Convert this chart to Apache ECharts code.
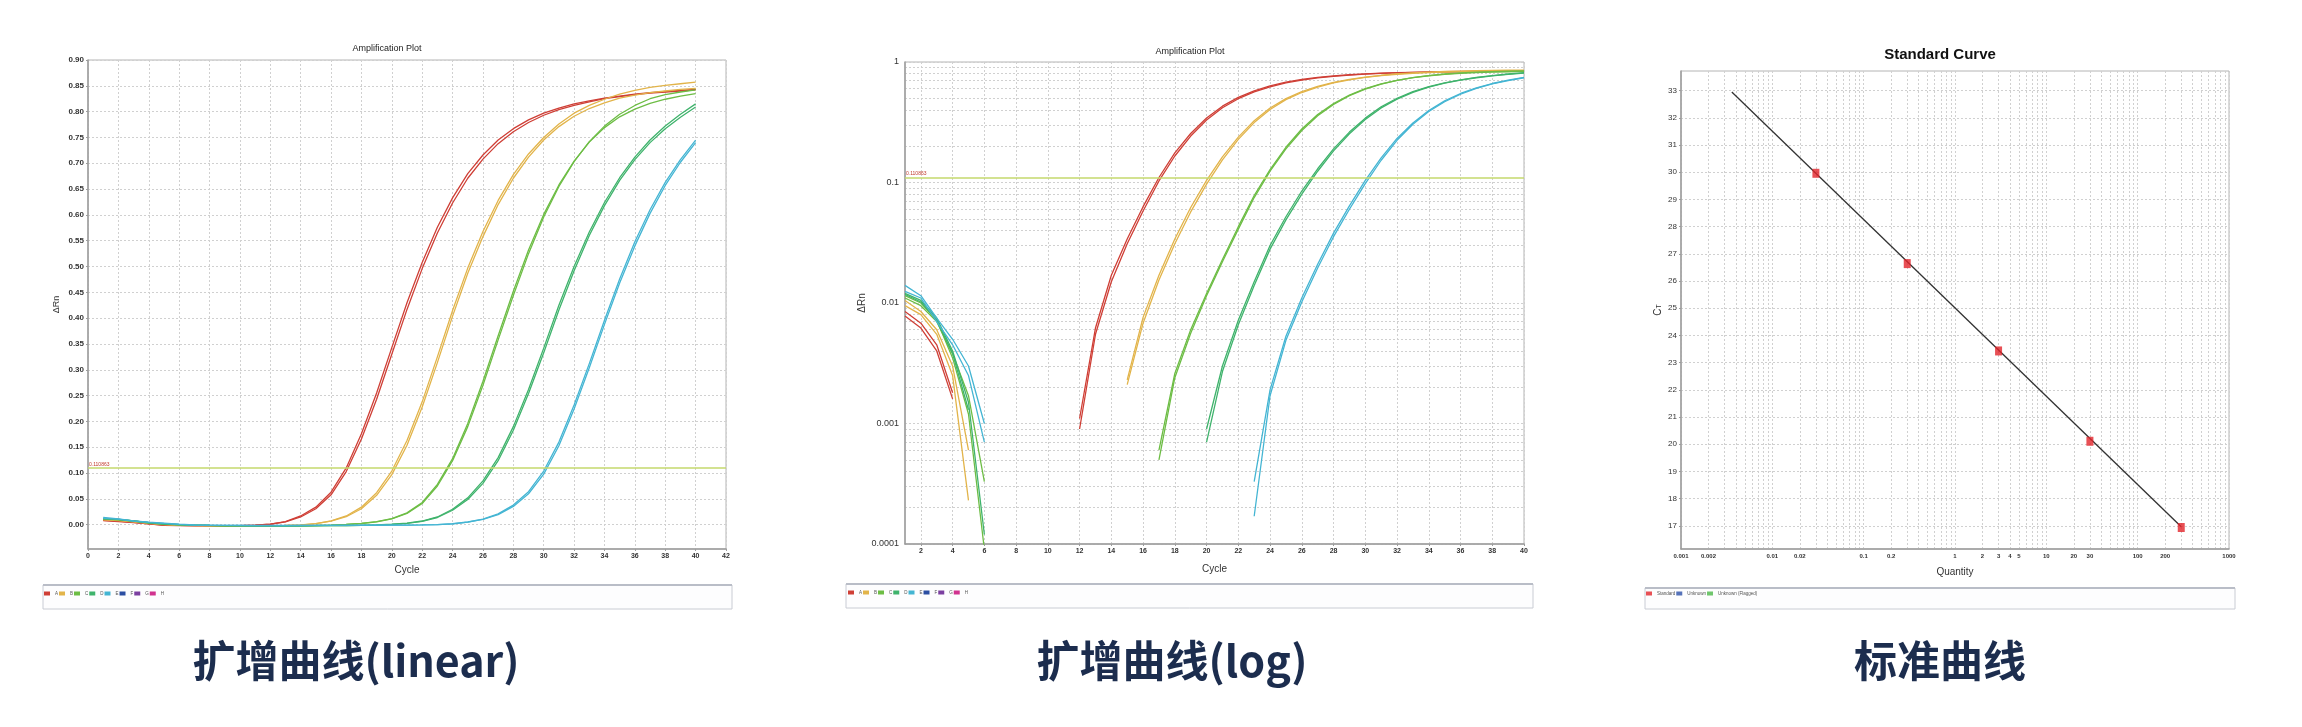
<!DOCTYPE html>
<html>
<head>
<meta charset="utf-8" />
<title>qPCR plots</title>
<script src="https://cdn.jsdelivr.net/npm/echarts@6/dist/echarts.min.js"></script>
<style>
html, body { margin: 0; padding: 0; background: #fff; }
#main { width: 2302px; height: 727px; }
</style>
</head>
<body>
<div id="main"></div>
<script>
// cycle numbers shared by both amplification plots
var cycles = [1,2,3,4,5,6,7,8,9,10,11,12,13,14,15,16,17,18,19,20,
              21,22,23,24,25,26,27,28,29,30,31,32,33,34,35,36,37,38,39,40];

// delta Rn per cycle, two replicate wells for each sample
var a1 = [0.0085,0.0068,0.0045,0.0018,-0.0005,-0.001,-0.0015,-0.002,-0.002,-0.002,
          -0.0008,0.0011,0.0062,0.017,0.034,0.063,0.11,0.176,0.255,0.343,
          0.43,0.508,0.576,0.633,0.68,0.716,0.745,0.767,0.784,0.797,
          0.807,0.815,0.821,0.826,0.83,0.834,0.837,0.839,0.841,0.843];
var a2 = [0.0078,0.0062,0.004,0.0016,-0.001,-0.0015,-0.002,-0.0022,-0.0022,-0.002,
          -0.001,0.0009,0.0055,0.015,0.031,0.058,0.103,0.166,0.243,0.33,
          0.417,0.496,0.565,0.623,0.671,0.708,0.738,0.761,0.779,0.793,
          0.804,0.812,0.819,0.825,0.829,0.833,0.836,0.838,0.84,0.842];
var b1 = [0.0105,0.0085,0.006,0.003,0.0006,-0.0008,-0.0012,-0.0018,-0.002,-0.002,
          -0.002,-0.0018,-0.0012,-0.0004,0.0023,0.0076,0.017,0.034,0.062,0.104,
          0.163,0.238,0.325,0.415,0.497,0.568,0.628,0.678,0.718,0.75,
          0.776,0.797,0.812,0.824,0.834,0.841,0.847,0.851,0.854,0.857];
var b2 = [0.0095,0.008,0.0055,0.0025,0.00023,-0.001,-0.0015,-0.002,-0.002,-0.002,
          -0.002,-0.002,-0.0015,-0.0006,0.0021,0.0068,0.0155,0.031,0.057,0.097,
          0.154,0.228,0.314,0.404,0.487,0.558,0.62,0.671,0.712,0.745,
          0.771,0.791,0.806,0.817,0.826,0.832,0.837,0.84,0.843,0.845];
var c1 = [0.011,0.0095,0.007,0.0038,0.0017,0.00033,-0.0005,-0.0012,-0.0018,-0.002,
          -0.002,-0.002,-0.002,-0.0018,-0.0014,-0.0006,0.0006,0.0026,0.006,0.012,
          0.023,0.043,0.078,0.128,0.196,0.278,0.366,0.452,0.532,0.601,
          0.658,0.704,0.741,0.769,0.79,0.805,0.816,0.824,0.83,0.835];
var c2 = [0.0115,0.01,0.0072,0.0035,0.0012,0.00009,-0.0008,-0.0015,-0.002,-0.002,
          -0.002,-0.002,-0.002,-0.002,-0.0015,-0.0008,0.0005,0.0024,0.0056,0.0115,
          0.022,0.041,0.075,0.124,0.19,0.27,0.358,0.444,0.525,0.596,
          0.655,0.703,0.742,0.772,0.795,0.812,0.825,0.833,0.838,0.842];
var d1 = [0.012,0.0105,0.0075,0.004,0.0015,0.00012,-0.0006,-0.0012,-0.0016,-0.0018,
          -0.002,-0.002,-0.002,-0.002,-0.0019,-0.0017,-0.0015,-0.0012,-0.0004,0.0009,
          0.003,0.0072,0.015,0.03,0.052,0.085,0.13,0.19,0.262,0.342,
          0.425,0.5,0.567,0.624,0.672,0.712,0.745,0.772,0.795,0.815];
var d2 = [0.0118,0.0102,0.0072,0.0038,0.0013,-0.0004,-0.001,-0.0014,-0.0017,-0.0019,
          -0.002,-0.002,-0.002,-0.002,-0.002,-0.0018,-0.0016,-0.0013,-0.0008,0.0007,
          0.0027,0.0066,0.014,0.028,0.049,0.08,0.124,0.183,0.254,0.333,
          0.416,0.492,0.56,0.618,0.667,0.707,0.74,0.767,0.789,0.809];
var e1 = [0.014,0.0115,0.0075,0.005,0.003,0.001,-0.0003,-0.0008,-0.0012,-0.0014,
          -0.0015,-0.0015,-0.0015,-0.0014,-0.0013,-0.0012,-0.0011,-0.001,-0.0009,-0.0008,
          -0.0006,-0.0002,0.00033,0.0019,0.0053,0.011,0.021,0.038,0.064,0.104,
          0.16,0.232,0.312,0.396,0.476,0.548,0.61,0.663,0.707,0.745];
var e2 = [0.0125,0.011,0.007,0.0045,0.0025,0.0007,-0.0005,-0.001,-0.0013,-0.0015,
          -0.0016,-0.0016,-0.0016,-0.0015,-0.0014,-0.0013,-0.0012,-0.0011,-0.001,-0.0009,
          -0.0007,-0.0004,0.00017,0.0017,0.0049,0.0102,0.0195,0.0355,0.06,0.098,
          0.153,0.224,0.304,0.388,0.468,0.54,0.603,0.657,0.702,0.74];

var threshold = 0.110863;

// legend wells A-H and their colours
var wellNames = ['A','B','C','D','E','F','G','H'];
var wellColors = ['#cf3f36','#e2b44a','#6dbd45','#3fb36c','#44b5d3','#2b4ea2','#7b3fa0','#d1338f'];
var wellData = { A: [a1, a2], B: [b1, b2], C: [c1, c2], D: [d1, d2], E: [e1, e2] };

// standard curve
var stdQty = [0.03, 0.3, 3, 30, 300];
var stdCt = [29.96, 26.64, 23.43, 20.11, 16.94];
var fitQty = [0.0036, 300];
var fitCt = [32.95, 16.97];

// tick values
var yTicksLin = [0,0.05,0.1,0.15,0.2,0.25,0.3,0.35,0.4,0.45,0.5,0.55,0.6,0.65,0.7,0.75,0.8,0.85,0.9];
var xTicksLog = [2,4,6,8,10,12,14,16,18,20,22,24,26,28,30,32,34,36,38,40];
var yLabelsLog = [0.0001, 0.001, 0.01, 0.1, 1];
var qtyLabels = [0.001,0.002,0.01,0.02,0.1,0.2,1,2,3,4,5,10,20,30,100,200,1000];
var ctTicks = [17,18,19,20,21,22,23,24,25,26,27,28,29,30,31,32,33];

function logGrid(fromExp, toExp) {
  var out = [];
  for (var e = fromExp; e < toExp; e++) {
    for (var m = 1; m <= 9; m++) out.push(+(m * Math.pow(10, e)).toPrecision(3));
  }
  out.push(Math.pow(10, toExp));
  return out;
}
var yGridLog = logGrid(-4, 0);
var qtyGrid = logGrid(-3, 3);

var FONT = 'Liberation Sans, Arial, sans-serif';
var gridLine = { show: true, lineStyle: { color: '#d0d0d0', type: [2, 2], width: 1 } };
var axLine = { show: true, onZero: false, lineStyle: { color: '#9c9c9c', width: 1.5 } };

function tickLabel(size, extra) {
  var o = { fontSize: size, fontWeight: 'bold', color: '#333', fontFamily: FONT, margin: 4 };
  for (var k in extra) o[k] = extra[k];
  return o;
}

var series = [];
[0, 1].forEach(function (p) {
  wellNames.forEach(function (name, gi) {
    var reps = wellData[name] || [];
    if (!reps.length) {
      series.push({ type: 'line', name: name, xAxisIndex: p, yAxisIndex: p, data: [],
        itemStyle: { color: wellColors[gi] } });
    }
    reps.forEach(function (rep, ri) {
      var s = {
        type: 'line', name: name, xAxisIndex: p, yAxisIndex: p,
        showSymbol: false, symbol: 'none', silent: true,
        lineStyle: { width: 1.3, color: wellColors[gi] },
        itemStyle: { color: wellColors[gi] },
        data: cycles.map(function (c, i) {
          var v = rep[i];
          return [c, p === 1 ? (v > 0 ? v : null) : v];
        })
      };
      if (name === 'A' && ri === 0) {
        s.markLine = {
          silent: true, symbol: 'none', animation: false,
          data: [{ yAxis: threshold }],
          lineStyle: { color: '#c5d96c', width: 1.5, type: 'solid' },
          label: { show: true, position: 'insideStartTop', formatter: '0.110863',
            color: '#c23a2c', fontSize: 5, distance: 1, fontFamily: FONT }
        };
      }
      series.push(s);
    });
  });
});

series.push({
  type: 'line', name: 'fit', xAxisIndex: 2, yAxisIndex: 2, silent: true,
  showSymbol: false, symbol: 'none',
  lineStyle: { color: '#333', width: 1.3 },
  data: fitQty.map(function (q, i) { return [q, fitCt[i]]; })
});
series.push({
  type: 'scatter', name: 'Standard', xAxisIndex: 2, yAxisIndex: 2, silent: true,
  symbol: 'rect', symbolSize: [7, 9], z: 5,
  itemStyle: { color: '#e2242a' },
  data: stdQty.map(function (q, i) { return [q, stdCt[i]]; })
});
series.push({ type: 'scatter', name: 'Unknown', xAxisIndex: 2, yAxisIndex: 2, data: [], itemStyle: { color: '#2a4fa8' } });
series.push({ type: 'scatter', name: 'Unknown (Flagged)', xAxisIndex: 2, yAxisIndex: 2, data: [], itemStyle: { color: '#4cb848' } });

function legendAt(left, top, names) {
  return {
    data: names, left: left, top: top, orient: 'horizontal', padding: 0,
    icon: 'rect', itemWidth: 6, itemHeight: 4, itemGap: 1, selectedMode: false,
    textStyle: { fontSize: 4.5, color: '#555', fontFamily: FONT }
  };
}

function frame(x, y, w, h) {
  return [
    { type: 'rect', shape: { x: x, y: y, width: w, height: h }, z: -1,
      style: { fill: '#fdfdfe', stroke: '#c9ccd4', lineWidth: 1 } },
    { type: 'line', shape: { x1: x, y1: y, x2: x + w, y2: y }, z: -1,
      style: { stroke: '#b9bdc7', lineWidth: 2 } }
  ];
}

function label(x, y, text, size, weight, color, family) {
  return { type: 'text', x: x, y: y, silent: true,
    style: { text: text, fontSize: size, fontWeight: weight, fill: color,
      fontFamily: family || FONT, align: 'center', verticalAlign: 'middle' } };
}

var graphics = []
  .concat(frame(43, 585, 689, 24))
  .concat(frame(846, 584, 687, 24))
  .concat(frame(1645, 588, 590, 21))
  .concat([
    label(387, 49, 'Amplification Plot', 9, 'normal', '#222'),
    label(1190, 52, 'Amplification Plot', 9, 'normal', '#222'),
    label(1940, 55, 'Standard Curve', 15, 'bold', '#111'),
    label(356, 661, '扩增曲线(linear)', 43, 'bold', '#1c2d4e', 'Noto Sans CJK SC'),
    label(1172, 661, '扩增曲线(log)', 43, 'bold', '#1c2d4e', 'Noto Sans CJK SC'),
    label(1940, 661, '标准曲线', 43, 'bold', '#1c2d4e', 'Noto Sans CJK SC')
  ]);

var gridBase = { show: true, borderColor: '#b4b4b4', borderWidth: 1, containLabel: false, outerBoundsMode: 'none' };
function g(left, top, width, height) {
  var o = { left: left, top: top, width: width, height: height };
  for (var k in gridBase) o[k] = gridBase[k];
  return o;
}

var option = {
  animation: false,
  backgroundColor: '#ffffff',
  grid: [g(88, 60, 638, 489), g(905, 62, 619, 482), g(1681, 71, 548, 478)],
  xAxis: [
    { type: 'value', gridIndex: 0, min: 0, max: 42, interval: 2,
      axisLine: axLine, axisTick: { show: true, length: 2, lineStyle: { color: '#9c9c9c' } },
      splitLine: gridLine, axisLabel: tickLabel(7),
      name: 'Cycle', nameLocation: 'middle', nameGap: 16,
      nameTextStyle: { fontSize: 10, color: '#333', fontFamily: FONT } },
    { type: 'value', gridIndex: 1, min: 1, max: 40,
      axisLine: axLine, axisTick: { show: true, length: 2, customValues: xTicksLog, lineStyle: { color: '#9c9c9c' } },
      splitLine: gridLine, axisLabel: tickLabel(7, { customValues: xTicksLog }),
      name: 'Cycle', nameLocation: 'middle', nameGap: 20,
      nameTextStyle: { fontSize: 10, color: '#333', fontFamily: FONT } },
    { type: 'log', logBase: 10, gridIndex: 2, min: 0.001, max: 1000,
      axisLine: axLine, axisTick: { show: false, customValues: qtyGrid },
      splitLine: gridLine,
      axisLabel: tickLabel(6, { customValues: qtyLabels, formatter: function (v) { return String(+v.toPrecision(4)); } }),
      name: 'Quantity', nameLocation: 'middle', nameGap: 18,
      nameTextStyle: { fontSize: 10, color: '#333', fontFamily: FONT } }
  ],
  yAxis: [
    { type: 'value', gridIndex: 0, min: -0.047, max: 0.9,
      axisLine: axLine, axisTick: { show: true, length: 2, customValues: yTicksLin, lineStyle: { color: '#9c9c9c' } },
      splitLine: gridLine,
      axisLabel: tickLabel(8, { customValues: yTicksLin, formatter: function (v) { return v.toFixed(2); } }),
      name: 'ΔRn', nameLocation: 'middle', nameGap: 27, nameRotate: 90,
      nameTextStyle: { fontSize: 9, color: '#333', fontFamily: FONT } },
    { type: 'log', logBase: 10, gridIndex: 1, min: 0.0001, max: 1,
      axisLine: axLine, axisTick: { show: false, customValues: yGridLog },
      splitLine: gridLine,
      axisLabel: tickLabel(9, { customValues: yLabelsLog, fontWeight: 'normal', margin: 6,
        formatter: function (v) { return String(+v.toPrecision(4)); } }),
      name: 'ΔRn', nameLocation: 'middle', nameGap: 38, nameRotate: 90,
      nameTextStyle: { fontSize: 10, color: '#333', fontFamily: FONT } },
    { type: 'value', gridIndex: 2, min: 16.15, max: 33.72,
      axisLine: axLine, axisTick: { show: true, length: 2, customValues: ctTicks, lineStyle: { color: '#9c9c9c' } },
      splitLine: gridLine,
      axisLabel: tickLabel(8, { customValues: ctTicks, fontWeight: 'normal' }),
      name: '{c|C}{t|T}', nameLocation: 'middle', nameGap: 18, nameRotate: 90,
      nameTextStyle: { fontSize: 10, color: '#333', fontFamily: FONT,
        rich: { c: { fontSize: 10, color: '#333' }, t: { fontSize: 7, color: '#333', padding: [3, 0, 0, 0] } } } }
  ],
  legend: [
    legendAt(44, 591, wellNames),
    legendAt(848, 590, wellNames),
    legendAt(1646, 591, ['Standard', 'Unknown', 'Unknown (Flagged)'])
  ],
  graphic: graphics,
  series: series
};

var chart = echarts.init(document.getElementById('main'));
chart.setOption(option);
</script>
</body>
</html>
